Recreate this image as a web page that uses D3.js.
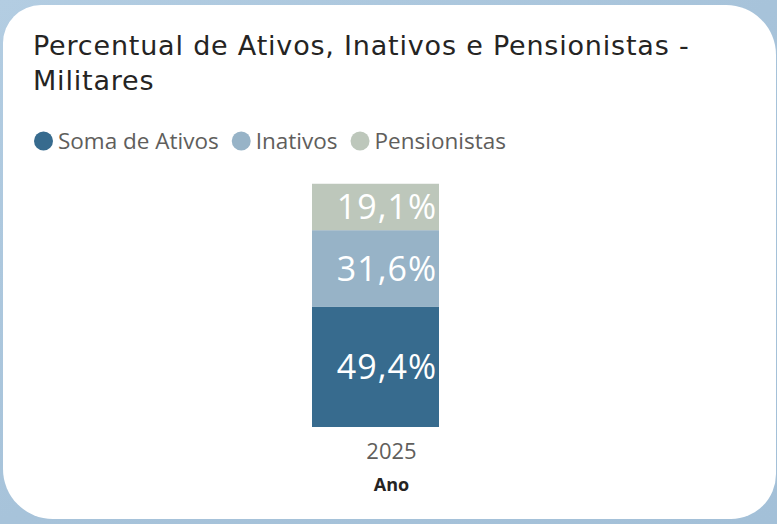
<!DOCTYPE html>
<html>
<head>
<meta charset="utf-8">
<script src="https://cdn.jsdelivr.net/npm/d3@7"></script>
<style>
  html, body { margin: 0; padding: 0; background: #a9c5dc; }
  svg { display: block; }
</style>
</head>
<body>
<div id="chart"></div>
<script>
const years = ['2025'];
const seriesNames = ['Soma de Ativos', 'Inativos', 'Pensionistas'];
const ativos = [49.4];
const inativos = [31.6];
const pensionistas = [19.1];
const colors = ['#376b8e', '#97b3c7', '#bdc7bb'];

const W = 777, H = 524;

const svg = d3.select('#chart').append('svg')
    .attr('width', W)
    .attr('height', H);

// background with faint diagonal streaks
const defs = svg.append('defs');
const grad = defs.append('linearGradient')
    .attr('id', 'bg').attr('x1', 0).attr('y1', 0).attr('x2', 1).attr('y2', 1);
grad.append('stop').attr('offset', '0%').attr('stop-color', '#b3cde2');
grad.append('stop').attr('offset', '50%').attr('stop-color', '#a7c3da');
grad.append('stop').attr('offset', '100%').attr('stop-color', '#a3c0d8');
svg.append('rect').attr('width', W).attr('height', H).attr('fill', 'url(#bg)');

// card with uneven rounded corners
function card(x0, y0, x1, y1, tl, tr, br, bl) {
    return `M${x0 + tl},${y0} L${x1 - tr},${y0} A${tr},${tr} 0 0 1 ${x1},${y0 + tr}` +
        ` L${x1},${y1 - br} A${br},${br} 0 0 1 ${x1 - br},${y1}` +
        ` L${x0 + bl},${y1} A${bl},${bl} 0 0 1 ${x0},${y1 - bl}` +
        ` L${x0},${y0 + tl} A${tl},${tl} 0 0 1 ${x0 + tl},${y0} Z`;
}
svg.append('path')
    .attr('d', card(3, 5, 776, 519, 38, 50, 45, 50))
    .attr('fill', '#ffffff');

// title
const title = svg.append('text')
    .attr('font-family', 'DejaVu Sans, sans-serif')
    .attr('font-size', 27)
    .attr('letter-spacing', 0.8)
    .attr('fill', '#252423');
title.append('tspan').attr('x', 33).attr('y', 55).text('Percentual de Ativos, Inativos e Pensionistas -');
title.append('tspan').attr('x', 33).attr('y', 90).text('Militares');

// legend
const legend = svg.append('g').attr('transform', 'translate(0,141)');
let lx = 34;
seriesNames.forEach((name, i) => {
    legend.append('circle')
        .attr('cx', lx + 9.5).attr('cy', 0).attr('r', 9.5)
        .attr('fill', colors[i]);
    const t = legend.append('text')
        .attr('x', lx + 24).attr('y', 8)
        .attr('font-family', 'Open Sans, sans-serif')
        .attr('font-size', 22.5)
        .attr('fill', '#605e5c')
        .text(name);
    lx += 24 + t.node().getComputedTextLength() + 13;
});

// data
const table = years.map((y, i) => ({
    ano: y,
    'Soma de Ativos': ativos[i],
    'Inativos': inativos[i],
    'Pensionistas': pensionistas[i]
}));
const stacked = d3.stack().keys(seriesNames)(table);

const x = d3.scaleBand()
    .domain(years)
    .range([312, 439])
    .padding(0);

const y = d3.scaleLinear()
    .domain([0, 100])
    .range([427, 184]);

const fmt = v => d3.format('.1f')(v).replace('.', ',') + '%';

const layers = svg.append('g')
    .selectAll('g')
    .data(stacked)
    .enter().append('g')
    .attr('fill', (d, i) => colors[i]);

layers.selectAll('rect')
    .data(d => d)
    .enter().append('rect')
    .attr('x', d => x(d.data.ano))
    .attr('y', d => y(d[1]))
    .attr('width', x.bandwidth())
    .attr('height', d => y(d[0]) - y(d[1]));

layers.selectAll('text')
    .data(d => d)
    .enter().append('text')
    .attr('x', d => x(d.data.ano) + x.bandwidth() - 2)
    .attr('y', d => (y(d[0]) + y(d[1])) / 2)
    .attr('dy', '0.36em')
    .attr('text-anchor', 'end')
    .attr('font-family', 'Open Sans, sans-serif')
    .attr('font-size', 34)
    .attr('letter-spacing', 1)
    .attr('fill', '#ffffff')
    .text(d => fmt(d[1] - d[0]));

// x axis
const xAxis = svg.append('g')
    .attr('transform', 'translate(16,427)')
    .call(d3.axisBottom(x).tickSize(0).tickPadding(16));
xAxis.select('.domain').remove();
xAxis.selectAll('text')
    .attr('font-family', 'Open Sans, sans-serif')
    .attr('font-size', 22)
    .attr('fill', '#605e5c');

svg.append('text')
    .attr('x', x('2025') + x.bandwidth() / 2 + 16)
    .attr('y', 491)
    .attr('text-anchor', 'middle')
    .attr('font-family', 'Open Sans, sans-serif')
    .attr('font-weight', 'bold')
    .attr('font-size', 18)
    .attr('fill', '#252423')
    .text('Ano');
</script>
</body>
</html>
